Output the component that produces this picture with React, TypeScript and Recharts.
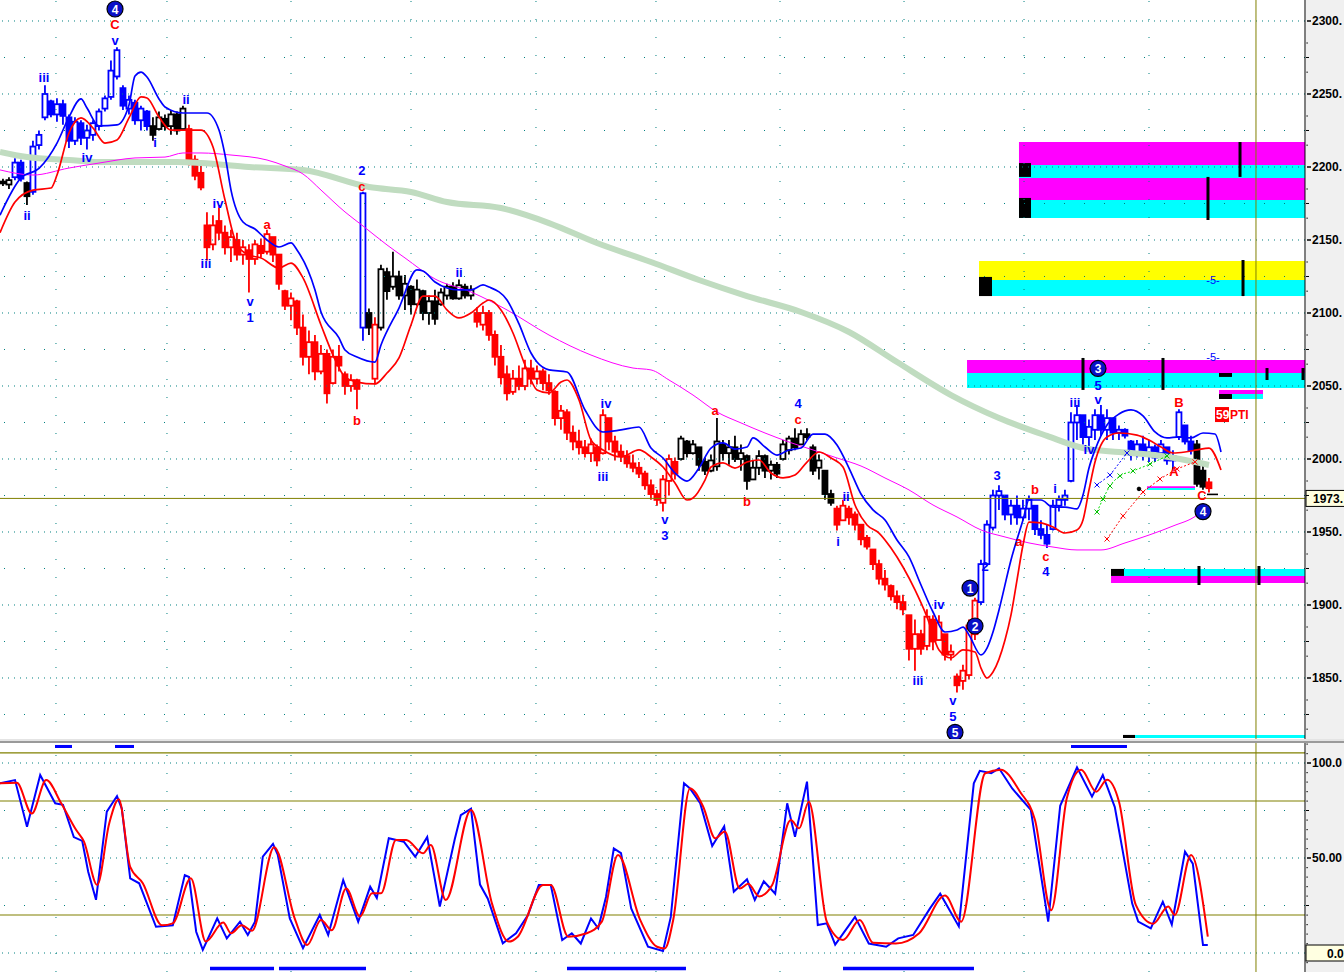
import React from 'react';
import { ComposedChart, Bar, Line, XAxis, YAxis, ReferenceLine, ReferenceArea, ReferenceDot } from 'recharts';

const FONT = "Arial, 'Liberation Sans', sans-serif";
const X_MIN = -0.5;
const X_MAX = 217;

// ---- price bars (open / high / low / close) ----
const barOpen = [2190,2188,2193,2203,2189,2183,2215,2234,2245,2236,2243,2234,2218,2230,2220,2222,2228,2240,2248,2262,2254,2240,2244,2232,2238,2228,2226,2233,2228,2236,2226,2226,2205,2196,2160,2147,2163,2155,2145,2150,2140,2143,2137,2146,2142,2152,2140,2115,2105,2108,2090,2070,2080,2060,2072,2052,2070,2058,2050,2054,2090,2100,2055,2090,2128,2118,2125,2112,2118,2106,2115,2100,2108,2106,2112,2118,2110,2118,2112,2100,2092,2100,2085,2070,2058,2046,2055,2050,2062,2055,2060,2052,2046,2028,2032,2018,2012,2008,2004,2008,2004,2028,2012,2005,2002,1997,1994,1990,1982,1976,1970,1985,1998,2000,2012,2004,2008,1998,1992,1995,2010,2004,2008,2000,2002,1986,1994,2002,1992,1996,2000,2006,2014,2010,2017,2008,1994,1992,1976,1966,1958,1966,1962,1955,1946,1938,1928,1918,1913,1906,1902,1893,1870,1880,1872,1890,1876,1880,1866,1851,1848,1852,1880,1902,1928,1953,1975,1975,1962,1968,1960,1966,1968,1952,1948,1952,1968,1972,1985,2025,2030,2015,2020,2030,2020,2028,2018,2020,2012,2003,2010,2004,2008,2004,2008,1999,2015,2023,2012,2010,1992,1984];
const barHigh = [2192,2193,2206,2205,2190,2218,2225,2256,2246,2247,2246,2236,2234,2232,2229,2232,2240,2249,2273,2282,2256,2249,2246,2242,2239,2234,2238,2236,2239,2238,2242,2229,2208,2201,2169,2167,2174,2160,2157,2155,2150,2147,2150,2151,2157,2152,2140,2116,2114,2109,2099,2088,2085,2078,2075,2075,2078,2060,2058,2055,2183,2103,2097,2133,2131,2142,2129,2126,2119,2123,2116,2112,2116,2117,2120,2121,2123,2120,2119,2104,2105,2102,2088,2078,2064,2061,2064,2068,2068,2064,2062,2058,2047,2037,2034,2023,2020,2013,2014,2010,2034,2028,2016,2010,2006,2003,1998,1992,1986,1979,1989,2003,2001,2016,2013,2013,2008,2001,2003,2028,2013,2013,2016,2010,2003,1999,2006,2003,1999,1998,2013,2016,2021,2020,2021,2010,2003,1992,1979,1968,1972,1968,1964,1955,1948,1938,1931,1924,1914,1910,1907,1893,1890,1883,1897,1893,1893,1880,1873,1853,1859,1890,1905,1931,1958,1979,1982,1975,1972,1975,1972,1975,1968,1958,1955,1972,1975,1979,2032,2037,2030,2027,2034,2037,2034,2028,2023,2021,2013,2013,2016,2013,2010,2013,2008,2006,2034,2023,2016,2013,1996,1987];
const barLow = [2187,2185,2191,2190,2174,2181,2212,2232,2234,2231,2229,2213,2215,2215,2212,2218,2225,2238,2246,2260,2239,2236,2229,2225,2225,2218,2225,2225,2222,2222,2225,2201,2191,2184,2136,2143,2150,2140,2135,2136,2133,2114,2133,2138,2140,2135,2116,2102,2095,2085,2064,2058,2054,2058,2038,2051,2060,2044,2046,2034,2081,2085,2051,2088,2109,2116,2109,2102,2099,2105,2095,2092,2092,2105,2109,2109,2109,2110,2109,2090,2088,2081,2064,2051,2040,2044,2047,2047,2051,2051,2047,2044,2023,2020,2013,2006,2003,2001,1998,1995,2003,2006,1999,1998,1994,1991,1987,1979,1972,1968,1964,1975,1986,1999,2001,2003,1992,1989,1991,1992,1999,1996,1998,1992,1979,1986,1989,1987,1986,1987,1999,2003,2006,2010,2013,1989,1986,1972,1968,1951,1958,1955,1951,1941,1938,1924,1914,1910,1903,1897,1893,1862,1855,1866,1869,1869,1876,1862,1862,1840,1842,1849,1876,1900,1927,1951,1965,1958,1955,1955,1958,1958,1948,1945,1939,1951,1964,1968,1984,2013,2010,2006,2013,2016,2013,2013,2013,2014,1999,2001,1999,1998,1998,2003,1996,1992,2013,2010,2003,1981,1979,1977];
const barClose = [2189,2191,2203,2192,2180,2214,2222,2250,2236,2243,2235,2218,2231,2220,2225,2230,2238,2247,2266,2280,2242,2246,2232,2240,2228,2222,2234,2228,2236,2225,2240,2205,2194,2186,2145,2160,2155,2145,2152,2140,2145,2137,2147,2141,2154,2140,2120,2105,2110,2090,2070,2080,2060,2072,2045,2070,2064,2050,2054,2048,2182,2090,2092,2130,2115,2125,2112,2120,2106,2116,2100,2108,2096,2114,2118,2110,2119,2112,2116,2094,2100,2085,2070,2056,2045,2055,2050,2062,2055,2060,2052,2047,2028,2033,2018,2012,2008,2004,2010,1999,2030,2012,2005,2002,1997,1994,1990,1982,1976,1972,1986,2000,1990,2014,2004,2010,1996,1992,1999,2012,2004,2008,2000,2004,1985,1994,2002,1992,1996,1990,2010,2014,2008,2017,2015,1992,1999,1976,1970,1955,1968,1960,1955,1945,1940,1928,1918,1914,1906,1902,1897,1870,1880,1870,1892,1875,1888,1866,1868,1845,1855,1886,1903,1928,1955,1975,1978,1962,1968,1960,1966,1972,1952,1948,1942,1968,1972,1975,2025,2030,2015,2022,2030,2020,2028,2018,2020,2016,2003,2010,2004,2008,2001,2010,1999,2002,2032,2012,2006,1983,1981,1980];
const barColorRuns: Array<[string, number]> = [['k',2],['b',2],['k',1],['b',20],['k',6],['r',29],['b',1],['k',1],['r',1],['k',16],['r',34],['k',26],['r',24],['b',36],['k',2],['r',1]];

// ---- overlay lines [bar index, value] ----
const upperBand: Array<[number, number]> = [[-0.5,2167],[3,2192.5],[6,2199],[9,2216.4],[11,2234.2],[13,2246.6],[14,2240.4],[16,2228.1],[19,2228.8],[21,2242.5],[22,2262.3],[23,2265],[24,2261.6],[26,2246.6],[27,2241.1],[30,2237],[34,2237],[36,2225.3],[37,2208.2],[38,2184.2],[40,2162.3],[42,2157.5],[44,2150],[46,2145.2],[48,2148],[49,2143.2],[52,2115.8],[53,2100.7],[56,2082.9],[57,2074.7],[59,2069.9],[62,2066.4],[63,2078.1],[66,2103.4],[69,2129.5],[70,2128.8],[72,2121.2],[74,2117.1],[76,2115.8],[78,2115.8],[80,2119.2],[81,2117.8],[84,2108.9],[86,2092.5],[88,2072.6],[89,2066.4],[91,2061],[94,2059.6],[97,2033.6],[100,2018.5],[103,2019.9],[106,2021.9],[108,2007.5],[110,2000.7],[112,1990.4],[114,1984.9],[116,1993.8],[118,2007.5],[120,2011],[122,2006.8],[124,2008.2],[125,2014.4],[127,2008.2],[129,2002.7],[131,2006.2],[133,2007.5],[135,2017.1],[137,2017.1],[139,2009.6],[141,1993.8],[143,1976],[145,1965.1],[147,1958.2],[149,1944.5],[151,1932.9],[153,1913.7],[155,1895.2],[157,1881.5],[159,1882.9],[160,1884.9],[161,1879.5],[163,1865.8],[164,1870.5],[165,1881.5],[166,1896.6],[168,1930.8],[170,1958.2],[171,1971.9],[173,1971.9],[175,1967.1],[177,1967.1],[179,1965.8],[180,1975.3],[181,1993.8],[182,2006.2],[184,2023.3],[186,2030.8],[188,2033.6],[190,2029.5],[192,2018.5],[194,2014.4],[196,2015.1],[198,2014.4],[200,2017.8],[202,2017.1],[203,2004.8]];
const lowerBand: Array<[number, number]> = [[-0.5,2155],[2,2176],[5,2184.2],[8,2185.6],[9,2194.5],[11,2223.3],[13,2233.6],[15,2226.7],[17,2216.4],[19,2218.5],[21,2233.6],[23,2248],[24,2247.3],[26,2234.2],[28,2225.3],[31,2225.3],[33,2225.3],[35,2213.7],[37,2177.4],[39,2146.6],[41,2139.7],[43,2137.7],[46,2130.8],[48,2134.2],[50,2124],[53,2091.8],[55,2071.2],[57,2056.2],[59,2052.7],[62,2051.4],[64,2058.9],[66,2069.2],[68,2091.8],[70,2111.6],[72,2111.6],[74,2102.1],[76,2096.6],[78,2100],[80,2106.8],[81,2108.9],[83,2102.1],[85,2086.3],[87,2064.4],[89,2047.3],[91,2045.2],[93,2052.7],[94,2054.1],[96,2040.4],[98,2013],[100,2006.2],[103,2001.4],[106,2006.2],[108,2001.4],[110,1994.5],[112,1983.6],[114,1971.9],[115,1973.3],[117,1985.6],[118,1994.5],[120,1997.3],[122,1993.8],[124,1997.9],[126,1999.3],[128,1990.4],[130,1987],[132,1989],[134,1997.9],[136,2004.8],[138,2000.7],[140,1994.5],[142,1968.5],[144,1954.8],[146,1949.3],[148,1939],[150,1926],[152,1910.3],[154,1891.8],[156,1869.2],[158,1863.7],[160,1869.2],[162,1867.8],[163,1856.8],[164,1850],[165,1854.1],[167,1876],[168,1893.2],[169,1917.1],[170,1941.1],[171,1956.8],[173,1956.2],[175,1953.4],[177,1949.3],[179,1951.4],[180,1958.2],[181,1978.8],[182,1997.9],[184,2015.1],[186,2017.8],[189,2016.4],[191,2013],[193,2008.2],[195,2004.1],[197,2004.8],[199,2006.2],[201,2007.5],[203,1992.5]];
const mediumAvg: Array<[number, number]> = [[-0.5,2198],[5,2194.5],[11,2199.3],[16,2202.7],[22,2206.2],[27,2206.8],[30,2209.6],[33,2209.6],[38,2208.2],[44,2204.8],[47,2200.7],[50,2195.2],[53,2184.2],[57,2169.2],[60,2159.6],[64,2146.6],[67,2137.7],[72,2123.3],[78,2114.4],[84,2102.1],[91,2084.9],[98,2071.2],[105,2062.3],[108,2061],[111,2054.1],[115,2043.8],[119,2032.2],[123,2024.7],[127,2017.8],[131,2011.6],[135,2006.2],[139,2000.7],[143,1995.2],[147,1987],[151,1978.8],[155,1968.5],[159,1960.3],[163,1951.4],[167,1946.6],[171,1942.5],[175,1939.7],[179,1937.7],[183,1937.7],[187,1942.5],[191,1947.9],[195,1954.1],[199,1961.6],[200,1965.1]];
const longAvg: Array<[number, number]> = [[-0.5,2210.3],[4,2206.8],[11,2204.8],[16,2203.4],[22,2203.4],[29,2203.4],[33,2202.7],[41,2200],[50,2197.9],[61,2186.3],[68,2182.9],[74,2176],[83,2171.9],[91,2161.6],[99,2147.9],[108,2134.9],[116,2122.6],[124,2111.6],[133,2100.7],[141,2087],[149,2066.4],[158,2043.8],[166,2028.1],[174,2015.8],[180,2007.5],[186,2004.8],[192,2002.7],[197,1999.3],[201,1995.9]];
const markBlue: Array<[number, number]> = [[182.33,1982.2],[184.5,1989],[187.33,2004.1]];
const markGreen: Array<[number, number]> = [[182.33,1963.7],[183.33,1972.6],[184.5,1981.5],[186.17,1988.4],[188.33,1991.8],[191.17,1996.6],[194,2002.1]];
const markRed: Array<[number, number]> = [[184,1945.2],[186.67,1961],[190,1977.4],[192.83,1986.3],[195.67,1993.2],[198.67,1998]];

// ---- stochastic ----
const stochK: Array<[number, number]> = [[-0.5,89.3],[2,91],[4,66.5],[6.2,93.7],[8.7,78.8],[10,78],[11.8,61],[13.2,59],[14.2,42.8],[15.5,28],[17.3,74.4],[19,82.6],[19.8,76],[21.2,39.3],[22.7,36.7],[25.5,13.8],[28.3,14.6],[30.3,41],[31,40],[32.2,11.2],[33.3,1.6],[35.7,18.2],[37.3,7.7],[39.5,16.5],[40.8,9.5],[42,16.5],[43.3,50.7],[45,57.4],[45.8,51.6],[47.8,18.2],[50,2.5],[52.8,20],[54.2,9.5],[56.7,38.4],[59.2,16.5],[61.2,34.9],[62.3,29],[64.3,60.4],[66.8,58.6],[68.7,50.7],[70.7,61],[72.8,24.4],[75.3,60],[76.3,72.6],[78,76],[79.5,36],[80.8,28.6],[83.3,5.1],[85.5,10.4],[87.5,20],[89.3,35.8],[91.3,35.8],[93.2,6.8],[94.8,10.4],[96.3,5],[98,18.2],[99.2,13],[100.5,29.5],[101.8,55],[103,52.6],[104.7,23.5],[107.5,3.3],[110,1.1],[111.3,19],[113.5,89.3],[114.5,86.6],[116.2,78.8],[118.2,56.3],[120.2,66.7],[121.8,32.3],[124,38.8],[125.3,27.9],[126.8,37.7],[128.7,31.2],[130.7,78.8],[132,61.2],[134,90.2],[135.8,14.7],[137.3,15.6],[138.7,4.4],[142,19],[144.3,5],[147.2,3.3],[149.2,7.7],[151.7,9.5],[154.5,23.5],[156.2,31.2],[159.3,14],[161.8,89.3],[162.8,95.9],[164.7,94.6],[166,97.2],[168.2,86.6],[171.3,75.3],[174.2,16.5],[176.2,77.5],[179,97.7],[181.5,82.3],[183.3,93.7],[185.3,76.8],[188.2,26],[189.2,16.5],[191.3,13],[193.3,27],[194.8,15],[197,53.3],[198.3,47],[200,4.2],[200.8,4.2]];
const stochD: Array<[number, number]> = [[-0.5,89.3],[2.3,89.6],[4.8,73.4],[7.2,91],[9.7,78.8],[12.2,64.7],[13.5,58.6],[15.7,35.8],[17.7,68.2],[19.3,80.9],[21.2,45.4],[23.3,36.7],[26.5,14.6],[28.3,15.6],[31.3,39.3],[33.8,6],[36.7,16],[38,10.4],[39.8,14.6],[41.5,11.7],[45.2,55.6],[48.7,17.4],[50.7,4.2],[53,17.4],[54.8,12],[57.2,34],[59.5,19.2],[61.5,31.4],[63,31.4],[65.5,59.5],[67.2,59.5],[70,52.5],[71.3,56.8],[73.8,27.9],[78,75.3],[81.5,26],[84.3,6],[85.8,8.6],[90,35.8],[91.3,35.8],[94.2,8.6],[97.3,10.4],[99.8,16.5],[102.5,51.6],[106.2,17.4],[109,3.3],[110.3,2.4],[111.7,17.4],[114.5,86.6],[116.7,77],[118.7,60.4],[120.3,64],[122.8,33.9],[124.2,36.4],[126,29.8],[128.2,35.8],[131.3,70],[132.7,65.6],[134.3,79.6],[137.3,16.5],[140,6.9],[142.8,17.4],[145,5.4],[148.8,5],[152.7,10.4],[157,30.2],[159.7,16.5],[163.7,94.6],[166.3,96.5],[169.5,84.9],[172,70],[174.7,22.5],[177.3,81.4],[179.7,96.5],[182.2,84.9],[184,91.2],[186,79.6],[188.8,25.3],[191.7,15.4],[194.2,24.5],[195.3,20],[198,51.6],[200.8,8.6]];

// ---- annotations ----
const waveLabels: Array<[number, number, string, string]> = [
  [18.67,2308.2,'4','c'],[18.67,2297.3,'C','r'],[18.67,2286.5,'v','b'],[6.83,2261,'iii','b'],[4,2167,'ii','b'],
  [14,2206.8,'iv','b'],[25.33,2217,'i','b'],[30.5,2245.9,'ii','b'],[33.83,2133.6,'iii','b'],[35.83,2175.3,'iv','b'],
  [44,2160.3,'a','r'],[41.17,2108,'v','b'],[41.17,2097,'1','b'],[59,2026.7,'b','r'],[59.83,2197.5,'2','b'],
  [59.83,2186.5,'c','r'],[76,2128,'ii','b'],[100.5,2037.7,'iv','b'],[100,1987.7,'iii','b'],[118.67,2032.9,'a','r'],
  [110.33,1958.5,'v','b'],[110.33,1947.5,'3','b'],[124,1971.2,'b','r'],[132.5,2038,'4','b'],[132.5,2027,'c','r'],
  [140.5,1974,'ii','b'],[139.17,1943.8,'i','b'],[156,1900,'iv','b'],[152.5,1848.6,'iii','b'],[158.33,1834.5,'v','b'],
  [158.33,1823.5,'5','b'],[158.67,1812.8,'5','c'],[161.17,1911.6,'1','c'],[162,1885.6,'2','c'],[163.67,1926.7,'2','b'],
  [165.67,1988.4,'3','b'],[169.33,1943.8,'a','r'],[172,1978.8,'b','r'],[173.83,1933.5,'c','r'],[173.83,1923,'4','b'],
  [175.33,1980.1,'i','b'],[178.67,2039,'iii','b'],[181,2006.8,'iv','b'],[182.5,2062,'3','c'],[182.5,2050.5,'5','b'],
  [182.5,2040.5,'v','b'],[196,2039,'B','r'],[195.17,1991.1,'A','r'],[199.83,1975.3,'C','r'],[200,1964,'4','c'],
  [201.67,2122.6,'-5-','s'],[201.67,2069.9,'-5-','s'],
];
const zoneRects: Array<[number, number, number, number, string]> = [
  [169.33,217,2201.4,2217.1,'m'],[169.33,217,2192.5,2201.4,'c'],[169.33,217,2177.4,2192.5,'m'],[169.33,217,2165.1,2177.4,'c'],
  [169.33,171.33,2193.2,2202.7,'k'],[169.33,171.33,2165.1,2178.8,'k'],
  [162.67,217,2122.6,2135.6,'y'],[162.67,217,2111.6,2122.6,'c'],[162.67,164.83,2111.6,2124.7,'k'],
  [160.67,217,2058.9,2067.8,'m'],[160.67,217,2048.6,2058.9,'c'],[202.67,204.83,2056.2,2058.9,'k'],
  [202.67,210,2044.5,2047.3,'m'],[204.83,210,2041.1,2044.5,'c'],[202.67,204.83,2041.1,2044.5,'k'],
  [190.67,198.67,1980.1,1981.3,'m'],[190.67,198.67,1978.8,1980.1,'c'],[200.67,202.5,1975.2,1976.3,'k'],
  [184.67,217,1919.9,1924.7,'c'],[184.67,217,1915.1,1919.9,'m'],[184.67,186.83,1919.9,1924.7,'k'],
  [188.67,217,1808.9,1811,'c'],[186.67,188.67,1808.9,1811,'k'],
];
const zoneTicks: Array<[number, number, number]> = [
  [206.17,2193.2,2217.1],[200.83,2163.7,2193.2],[206.67,2111.6,2136.3],[180,2047.3,2069.2],[193.33,2047.3,2069.2],
  [210.67,2054.1,2062.3],[216.67,2054.1,2062.3],[199.33,1913.7,1926.7],[209.33,1913.7,1926.7],
];
const stochMarks: Array<[number, number, string]> = [[8.67,11.5,'t'],[18.67,21.83,'t'],[178,187.33,'t'],[34.5,45.17,'b'],[46,60.5,'b'],[94,113.83,'b'],[140,161.83,'b']];
const priceTicks = [1850,1900,1950,2000,2050,2100,2150,2200,2250,2300];
const stochTicks = [50,100];
const stochTickLabels = ['50.00','100.0'];
const lastPrice = 1973;
const lastPriceLabel = '1973.';
const stochLast = 0;
const stochLastLabel = '0.0';
const gridCols = [8.83,27.33,48,68,88.83,108.83,129.5,150.17,170.17,191];
const cursorCol = 208.83;

const COLORS: Record<string, string> = { k: '#000000', b: '#0000ff', r: '#ff0000', m: '#ff00ff', c: '#00ffff', y: '#ffff00' };

const barColors: string[] = [];
barColorRuns.forEach(([c, n]) => { for (let j = 0; j < n; j++) barColors.push(COLORS[c]); });
const barData = barOpen.map((o, i) => ({ x: i, o, h: barHigh[i], l: barLow[i], c: barClose[i], range: [barLow[i], barHigh[i]], col: barColors[i] }));
const toPts = (arr: Array<[number, number]>) => arr.map(([x, v]) => ({ x, v }));

const mainTickVals = Array.from(new Set(priceTicks.flatMap((m) => [m - 35, m - 25, m - 15, m, m + 15, m + 25, m + 35]))).sort((a, b) => a - b);
const stochTickVals: number[] = [];
for (let v = -5; v <= 110; v += 5) stochTickVals.push(v);

const Candle = (props: any) => {
  const { x, y, width, height, payload } = props;
  if (!payload || x == null || y == null) return null;
  const { o, h, l, c, col } = payload;
  const top = Math.min(y, y + height);
  const bot = Math.max(y, y + height);
  const span = h - l || 1;
  const py = (v: number) => top + ((h - v) / span) * (bot - top);
  const cx = x + width / 2;
  const bw = 5;
  const yo = py(o);
  const yc = py(c);
  const bt = Math.min(yo, yc);
  const bh = Math.max(1.8, Math.abs(yc - yo));
  const up = c > o;
  return (
    <g>
      <line x1={cx} x2={cx} y1={top} y2={bot} stroke={col} strokeWidth={1.8} />
      <rect x={cx - bw / 2} y={bt} width={bw} height={bh} fill={up ? '#ffffff' : col} stroke={col} strokeWidth={1.8} />
    </g>
  );
};

const MainTick = (p: any) => {
  const { x, y, payload } = p;
  const v = payload.value;
  if (priceTicks.includes(v)) {
    return (
      <g>
        <line x1={x + 2} x2={x + 6} y1={y} y2={y} stroke="#000" strokeWidth={1.5} />
        <text x={x + 7} y={y} dominantBaseline="central" fontSize={12} fontWeight="bold" fontFamily={FONT} fill="#000">{`${v}.`}</text>
      </g>
    );
  }
  if (((v % 50) + 50) % 50 === 25) return <line x1={x + 1} x2={x + 4} y1={y} y2={y} stroke="#000" strokeWidth={1} />;
  return <rect x={x + 1.5} y={y - 0.5} width={1.2} height={1.2} fill="#000" />;
};

const StochTick = (p: any) => {
  const { x, y, payload } = p;
  const v = payload.value;
  const idx = stochTicks.indexOf(v);
  if (idx >= 0) {
    return (
      <g>
        <line x1={x + 2} x2={x + 6} y1={y} y2={y} stroke="#000" strokeWidth={1.5} />
        <text x={x + 7} y={y} dominantBaseline="central" fontSize={12} fontWeight="bold" fontFamily={FONT} fill="#000">{stochTickLabels[idx]}</text>
      </g>
    );
  }
  if (v === 25 || v === 75) return <line x1={x + 1} x2={x + 4} y1={y} y2={y} stroke="#000" strokeWidth={1} />;
  if (v === stochLast) return <g />;
  return <rect x={x + 1.5} y={y - 0.5} width={1.2} height={1.2} fill="#000" />;
};

const boxLabel = (text: string, textDx: number) => (props: any) => {
  const vb = props.viewBox || {};
  const X = (vb.x || 0) + (vb.width || 0);
  const Y = vb.y || 0;
  return (
    <g>
      <rect x={X + 1} y={Y - 8} width={40} height={16} fill="#ffffe1" stroke="#000" strokeWidth={1} />
      <text x={X + textDx} y={Y + 0.5} dominantBaseline="central" fontSize={12} fontWeight="bold" fontFamily={FONT} fill="#000">{text}</text>
    </g>
  );
};

const renderWave = (p: any, t: string, k: string) => {
  const { cx, cy } = p;
  if (cx == null || cy == null) return <g />;
  if (k === 'c') {
    return (
      <g>
        <circle cx={cx} cy={cy} r={8} fill="#0a10c8" stroke="#000" strokeWidth={1.2} />
        <text x={cx} y={cy + 0.5} textAnchor="middle" dominantBaseline="central" fontSize={12} fontWeight="bold" fill="#ffffff" fontFamily={FONT}>{t}</text>
      </g>
    );
  }
  if (k === 's') {
    return <text x={cx} y={cy} textAnchor="middle" dominantBaseline="central" fontSize={11} fill="#0000ff" fontFamily={FONT}>{t}</text>;
  }
  return (
    <text x={cx} y={cy} textAnchor="middle" dominantBaseline="central" fontSize={13} fontWeight="bold" fill={k === 'r' ? '#ff0000' : '#0000ff'} fontFamily={FONT}>{t}</text>
  );
};

const ptiLabel = (p: any) => {
  const { cx, cy } = p;
  return (
    <g>
      <rect x={cx} y={cy - 8} width={14} height={15} fill="#ff0000" />
      <text x={cx + 1} y={cy} dominantBaseline="central" fontSize={12} fontWeight="bold" fill="#ffffff" fontFamily={FONT}>59</text>
      <text x={cx + 15} y={cy} dominantBaseline="central" fontSize={12} fontWeight="bold" fill="#ff0000" fontFamily={FONT}>PTI</text>
    </g>
  );
};

const crossDot = (color: string) => (p: any) => {
  const { cx, cy, index } = p;
  if (cx == null || cy == null) return <g key={index} />;
  return (
    <path key={index} d={`M${cx - 2.5},${cy - 2.5}L${cx + 2.5},${cy + 2.5}M${cx - 2.5},${cy + 2.5}L${cx + 2.5},${cy - 2.5}`} stroke={color} strokeWidth={1} />
  );
};

function MainChart() {
  return (
    <ComposedChart width={1344} height={740} data={barData} margin={{ top: 0, right: 0, bottom: 0, left: 0 }}>
      <XAxis type="number" dataKey="x" domain={[X_MIN, X_MAX]} hide allowDataOverflow />
      <YAxis type="number" orientation="right" width={39} domain={[1807.53, 2314.38]} allowDataOverflow ticks={mainTickVals} interval={0}
        tick={(p: any) => <MainTick {...p} />} tickLine={false} tickSize={0} tickMargin={0} axisLine={{ stroke: '#000', strokeWidth: 1 }} />
      {priceTicks.map((v) => (
        <ReferenceLine key={`h${v}`} y={v} stroke="#008080" strokeDasharray="1 5" strokeWidth={1} />
      ))}
      {priceTicks.map((v) => (
        <ReferenceLine key={`hm${v}`} y={v - 25} stroke="#008080" strokeDasharray="1 19" strokeWidth={1} />
      ))}
      {gridCols.map((c) => (
        <ReferenceLine key={`v${c}`} x={c} stroke="#008080" strokeDasharray="1 17" strokeWidth={1} />
      ))}
      <Line data={toPts(longAvg)} dataKey="v" type="monotone" stroke="#c0dcc0" strokeWidth={6} dot={false} activeDot={false} isAnimationActive={false} />
      <Line data={toPts(mediumAvg)} dataKey="v" type="monotone" stroke="#ff00ff" strokeWidth={1} dot={false} activeDot={false} isAnimationActive={false} />
      {zoneRects.map(([x1, x2, y1, y2, c], i) => (
        <ReferenceArea key={`z${i}`} x1={x1} x2={x2} y1={y1} y2={y2} fill={COLORS[c]} fillOpacity={1} stroke="none" />
      ))}
      {zoneTicks.map(([x, y1, y2], i) => (
        <ReferenceLine key={`zt${i}`} segment={[{ x, y: y1 }, { x, y: y2 }]} stroke="#000" strokeWidth={3} />
      ))}
      <ReferenceLine x={cursorCol} stroke="#808000" strokeWidth={1} />
      <ReferenceLine y={lastPrice} stroke="#808000" strokeWidth={1} label={boxLabel(lastPriceLabel, 8)} />
      <Bar dataKey="range" barSize={5} shape={Candle} isAnimationActive={false} />
      <Line data={toPts(upperBand)} dataKey="v" type="monotone" stroke="#0000ff" strokeWidth={1.7} dot={false} activeDot={false} isAnimationActive={false} />
      <Line data={toPts(lowerBand)} dataKey="v" type="monotone" stroke="#ff0000" strokeWidth={1.7} dot={false} activeDot={false} isAnimationActive={false} />
      <Line data={toPts(markBlue)} dataKey="v" type="linear" stroke="#0000ff" strokeWidth={1} strokeDasharray="2 2" dot={crossDot('#0000ff')} activeDot={false} isAnimationActive={false} />
      <Line data={toPts(markGreen)} dataKey="v" type="monotone" stroke="#00e000" strokeWidth={1} strokeDasharray="2 2" dot={crossDot('#00c000')} activeDot={false} isAnimationActive={false} />
      <Line data={toPts(markRed)} dataKey="v" type="linear" stroke="#ff0000" strokeWidth={1} strokeDasharray="2 2" dot={crossDot('#ff0000')} activeDot={false} isAnimationActive={false} />
      <ReferenceDot x={189.33} y={1979.5} r={1.8} fill="#000" stroke="#000" />
      {waveLabels.map(([x, y, t, k], i) => (
        <ReferenceDot key={`w${i}`} x={x} y={y} r={0} shape={(p: any) => renderWave(p, t, k)} />
      ))}
      <ReferenceDot x={202} y={2030.1} r={0} shape={ptiLabel} />
    </ComposedChart>
  );
}

function StochChart() {
  return (
    <ComposedChart width={1344} height={229} margin={{ top: 0, right: 0, bottom: 0, left: 0 }}>
      <XAxis type="number" dataKey="x" domain={[X_MIN, X_MAX]} hide allowDataOverflow />
      <YAxis type="number" orientation="right" width={39} domain={[-10, 110.53]} allowDataOverflow ticks={stochTickVals} interval={0}
        tick={(p: any) => <StochTick {...p} />} tickLine={false} tickSize={0} tickMargin={0} axisLine={{ stroke: '#000', strokeWidth: 1 }} />
      {[0, 50, 100].map((v) => (
        <ReferenceLine key={`sh${v}`} y={v} stroke="#008080" strokeDasharray="1 5" strokeWidth={1} />
      ))}
      {[25, 75].map((v) => (
        <ReferenceLine key={`sm${v}`} y={v} stroke="#008080" strokeDasharray="1 19" strokeWidth={1} />
      ))}
      {gridCols.map((c) => (
        <ReferenceLine key={`sv${c}`} x={c} stroke="#008080" strokeDasharray="1 17" strokeWidth={1} />
      ))}
      {[20, 80, 105.3].map((v) => (
        <ReferenceLine key={`so${v}`} y={v} stroke="#808000" strokeWidth={1.2} />
      ))}
      <ReferenceLine x={cursorCol} stroke="#808000" strokeWidth={1} />
      <ReferenceLine y={stochLast} stroke="none" label={boxLabel(stochLastLabel, 22)} />
      {stochMarks.map(([x1, x2, pos], i) => (
        <ReferenceArea key={`sb${i}`} x1={x1} x2={x2} y1={pos === 't' ? 107.9 : -9.1} y2={pos === 't' ? 109.5 : -7.2} fill="#0000ff" fillOpacity={1} stroke="none" />
      ))}
      <Line data={toPts(stochK)} dataKey="v" type="linear" stroke="#0000ff" strokeWidth={2} dot={false} activeDot={false} isAnimationActive={false} />
      <Line data={toPts(stochD)} dataKey="v" type="monotone" stroke="#ff0000" strokeWidth={2} dot={false} activeDot={false} isAnimationActive={false} />
    </ComposedChart>
  );
}

export default function App() {
  return (
    <div style={{ position: 'absolute', left: 0, top: 0, width: 1344, height: 972, background: '#ffffff', overflow: 'hidden', fontFamily: FONT }}>
      <div style={{ position: 'absolute', left: 1306, top: 0, width: 38, height: 972, background: '#f0f0f0' }} />
      <div style={{ position: 'absolute', left: 0, top: 0 }}>
        <MainChart />
      </div>
      <div style={{ position: 'absolute', left: 0, top: 739, width: 1344, height: 2, background: '#e4e4e4' }} />
      <div style={{ position: 'absolute', left: 0, top: 741, width: 1344, height: 2, background: '#9a9a9a' }} />
      <div style={{ position: 'absolute', left: 0, top: 743 }}>
        <StochChart />
      </div>
    </div>
  );
}
